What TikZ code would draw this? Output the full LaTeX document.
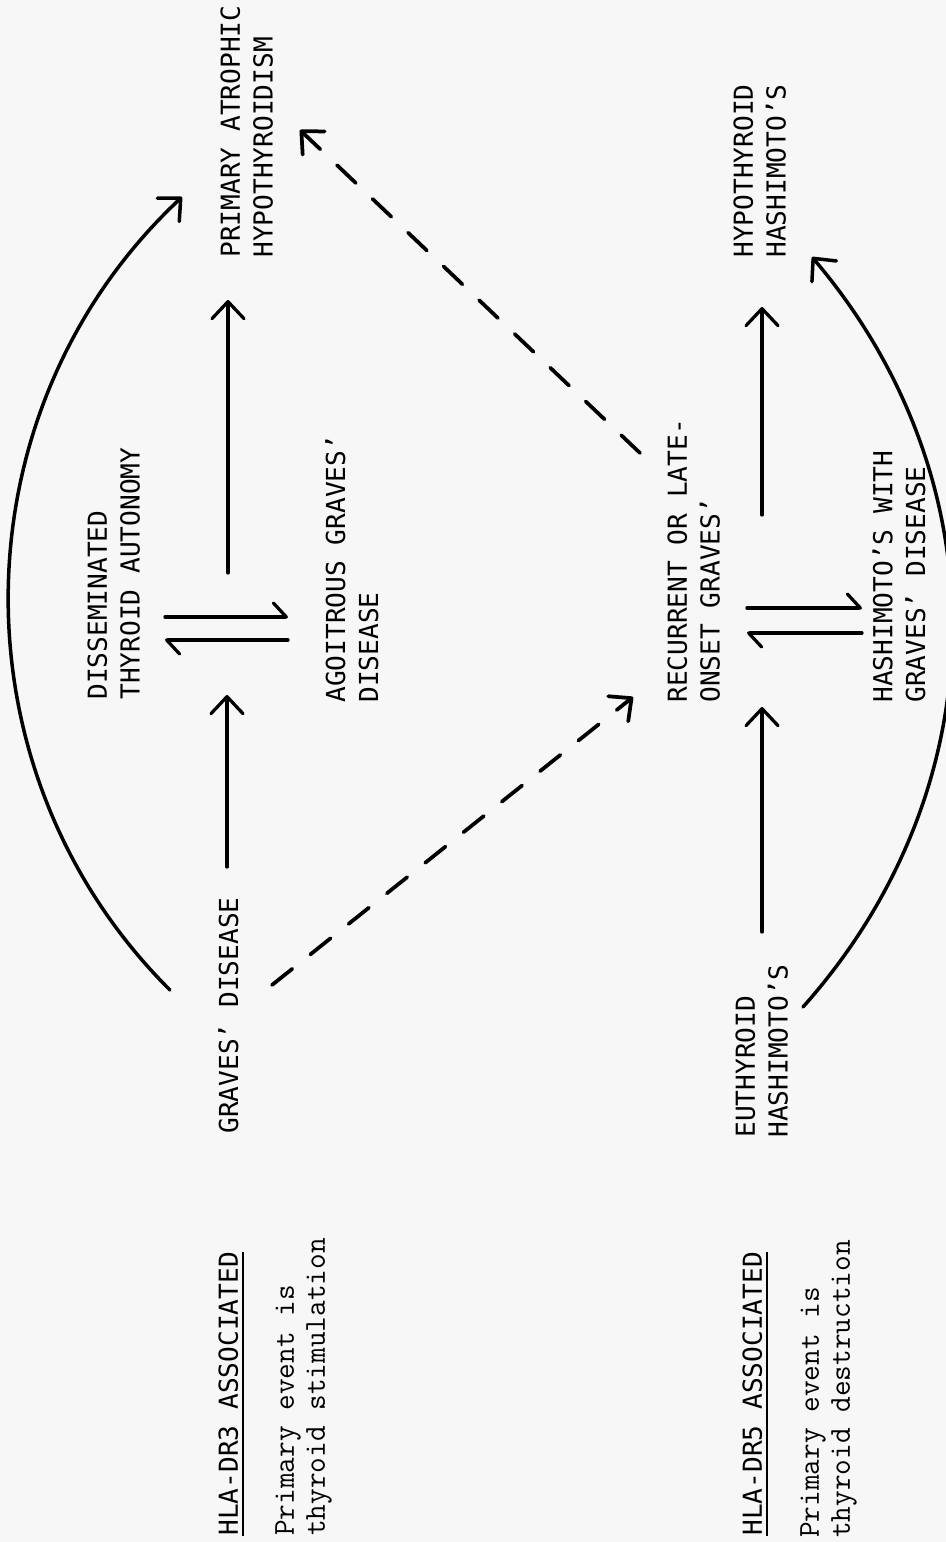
\documentclass[tikz,border=0pt]{standalone}
\usepackage{fontspec}
\newfontfamily\capsfont{DejaVu Sans Mono}
\usetikzlibrary{arrows.meta}

\begin{document}
\begin{tikzpicture}[
    x=0.02cm, y=0.02cm,
    lbl/.style={rotate=90, anchor=north west, inner sep=0pt, align=left, font=\capsfont\fontsize{14.9}{18.7}\selectfont},
    note/.style={rotate=90, anchor=north west, inner sep=0pt, align=left, font=\ttfamily\fontsize{17.3}{17.6}\selectfont},
    arr/.style={-{Straight Barb[round, length=0.34cm, width=0.64cm]}, line width=0.065cm, line cap=round},
    harp/.style={-{Straight Barb[round, left, length=0.26cm, width=0.56cm]}, line width=0.065cm, line cap=round},
    dasharr/.style={arr, line width=0.075cm, dash pattern=on 0.52cm off 0.46cm},
    bigarc/.style={arr, line width=0.07cm},
    uline/.style={line width=0.055cm}
]
\path[use as bounding box, fill=black!3] (0,0) rectangle (946,-1542);

\node[lbl] (primary) at (220,-258)  {PRIMARY ATROPHIC\\HYPOTHYROIDISM};
\node[lbl] (hypo)    at (733,-258)  {HYPOTHYROID\\HASHIMOTO’S};
\node[lbl] (dissem)  at (87,-700)   {DISSEMINATED\\THYROID AUTONOMY};
\node[lbl] (agoit)   at (325,-703)  {AGOITROUS GRAVES’\\DISEASE};
\node[lbl] (recur)   at (667,-703)  {RECURRENT OR LATE-\\ONSET GRAVES’};
\node[lbl] (hashgr)  at (872,-703)  {HASHIMOTO’S WITH\\GRAVES’ DISEASE};
\node[lbl] (graves)  at (218,-1134) {GRAVES’ DISEASE};
\node[lbl] (euthy)   at (735,-1138) {EUTHYROID\\HASHIMOTO’S};
\node[lbl] (dr3)     at (218,-1536) {HLA-DR3 ASSOCIATED};
\node[lbl] (dr5)     at (742,-1536) {HLA-DR5 ASSOCIATED};
\node[note] (dr3txt) at (275,-1536) {Primary event is\\thyroid stimulation};
\node[note] (dr5txt) at (800,-1538) {Primary event is\\thyroid destruction};
\draw[uline] ([xshift=0.09cm]dr3.south west) -- ([xshift=0.09cm]dr3.south east);
\draw[uline] ([xshift=0.09cm]dr5.south west) -- ([xshift=0.09cm]dr5.south east);

\coordinate (a1s) at (227,-867);  \coordinate (a1e) at (227,-695);
\coordinate (a2s) at (228,-573);  \coordinate (a2e) at (228,-300);
\coordinate (a3s) at (762,-932);  \coordinate (a3e) at (762,-707);
\coordinate (a4s) at (762,-515);  \coordinate (a4e) at (762,-307);
\coordinate (h1s) at (165,-617);  \coordinate (h1e) at (288,-617);
\coordinate (h2s) at (288,-640);  \coordinate (h2e) at (165,-640);
\coordinate (h3s) at (747,-608);  \coordinate (h3e) at (862,-608);
\coordinate (h4s) at (862,-633);  \coordinate (h4e) at (747,-633);
\coordinate (d1s) at (272,-985);  \coordinate (d1e) at (633,-697);
\coordinate (d2s) at (640,-453);  \coordinate (d2e) at (300,-130);
\coordinate (c1s) at (170,-990);  \coordinate (c1e) at (182,-197);
\coordinate (c2s) at (803,-1007); \coordinate (c2e) at (812,-257);

\draw[arr] (a1s) -- (a1e);
\draw[arr] (a2s) -- (a2e);
\draw[arr] (a3s) -- (a3e);
\draw[arr] (a4s) -- (a4e);
\draw[harp] (h1s) -- (h1e);
\draw[harp] (h2s) -- (h2e);
\draw[harp] (h3s) -- (h3e);
\draw[harp] (h4s) -- (h4e);
\draw[dasharr] (d1s) -- (d1e);
\draw[dasharr] (d2s) -- (d2e);
\draw[bigarc] (c1s) to[bend left=46] (c1e);
\draw[bigarc] (c2s) to[bend right=41] (c2e);
\end{tikzpicture}
\end{document}
